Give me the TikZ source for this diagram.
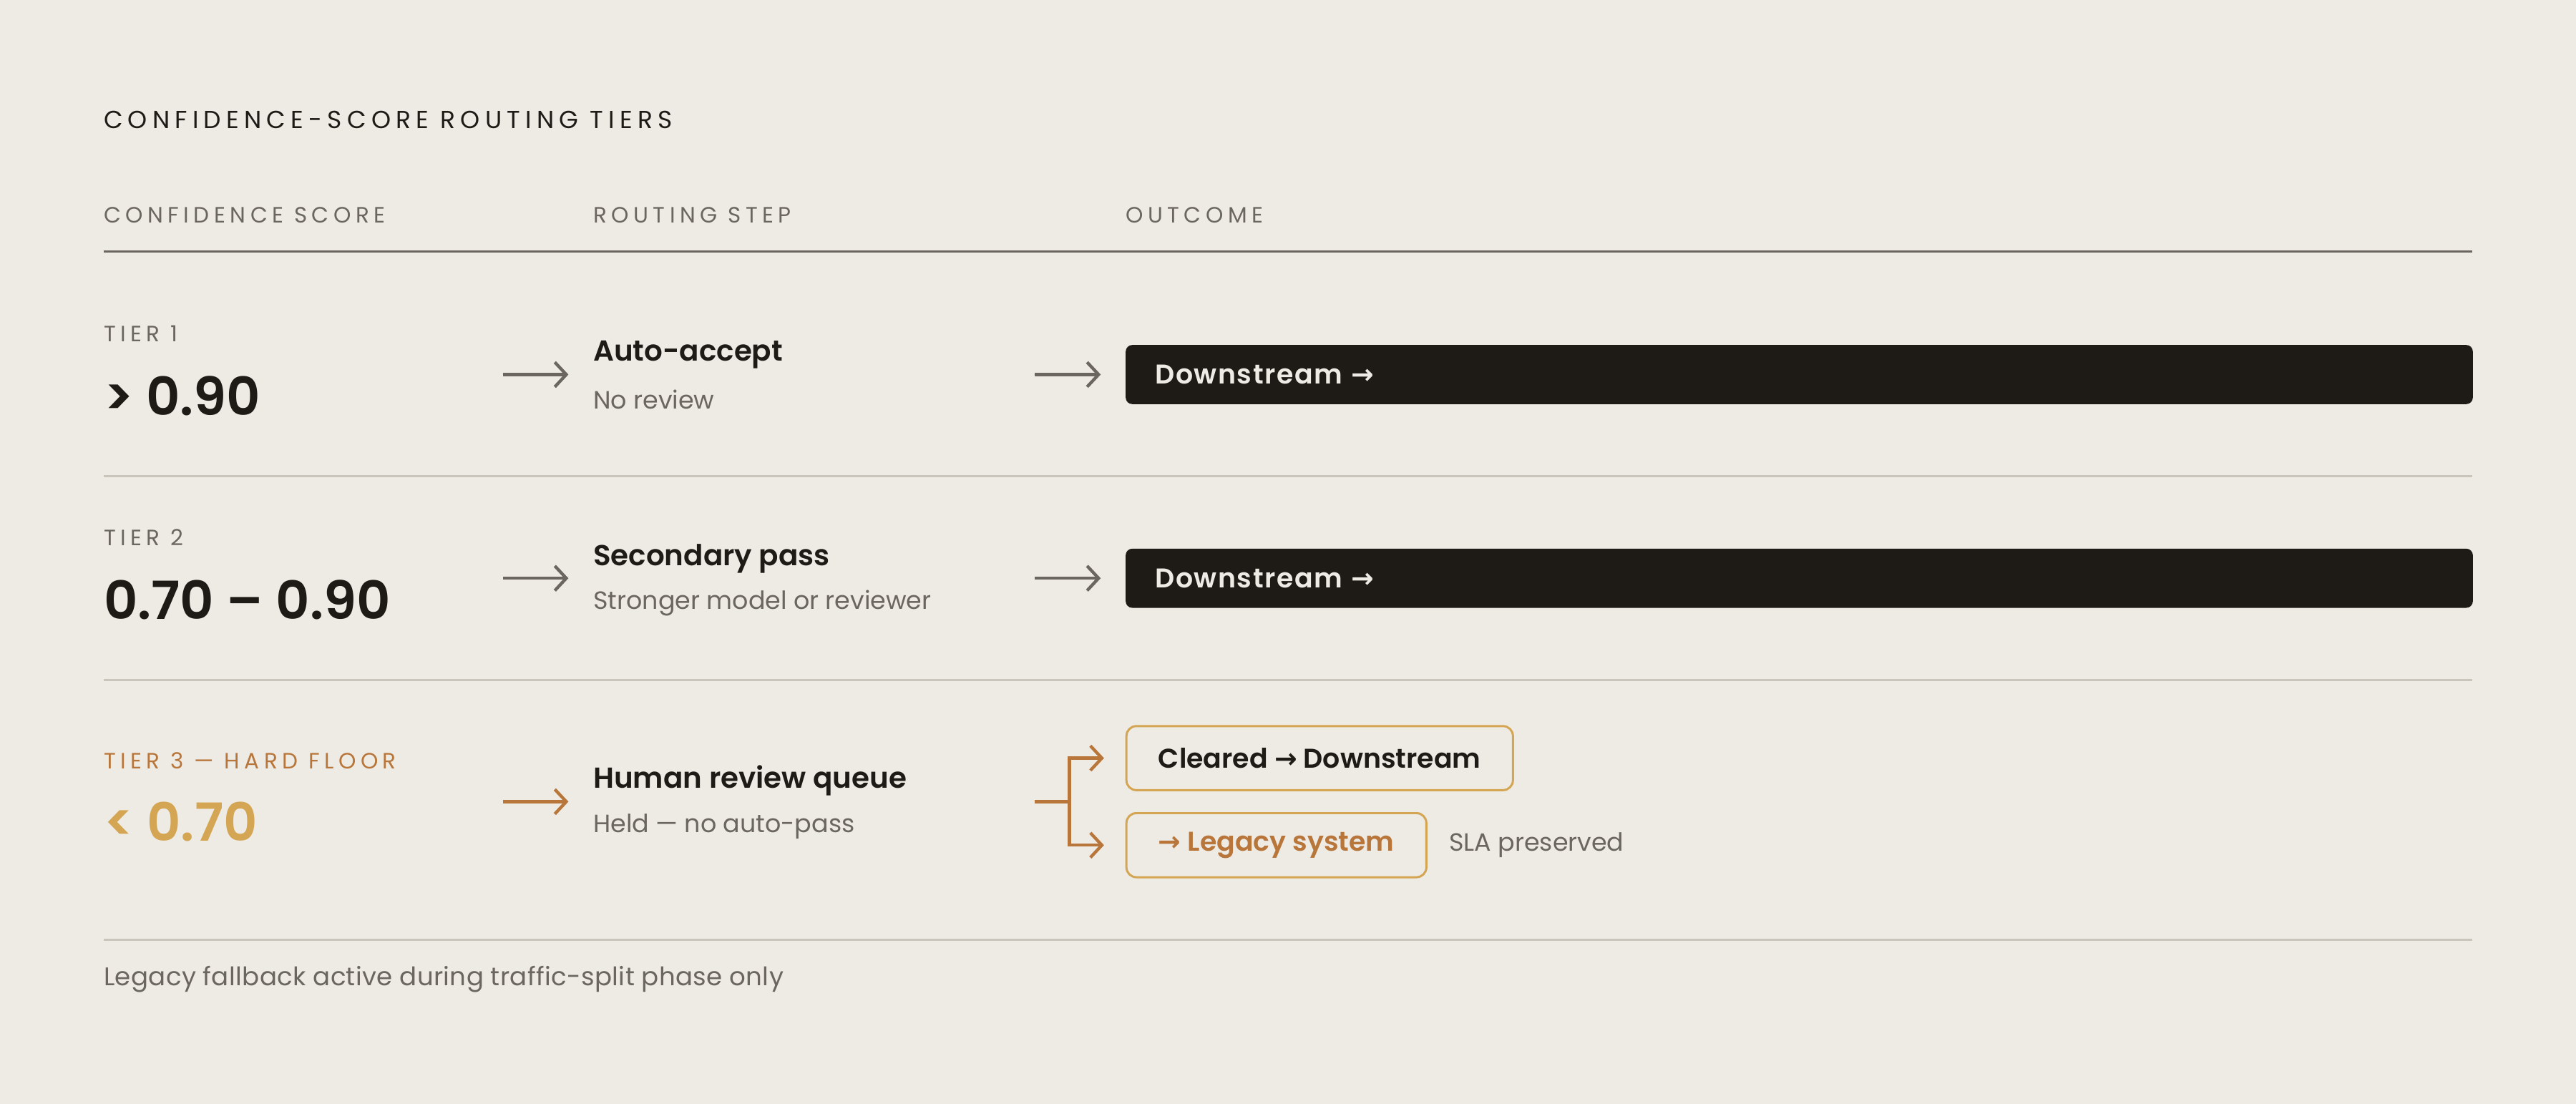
\documentclass[tikz,border=0pt]{standalone}
\usepackage{fontspec}
\setmainfont{Poppins}[BoldFont={Poppins SemiBold}]
\newfontfamily\capsfont[LetterSpace=21]{Poppins}
\newfontfamily\footfont[LetterSpace=1]{Poppins}
\newfontfamily\btnfont[LetterSpace=4, BoldFont={Poppins SemiBold}]{Poppins}
\newfontfamily\symfont{DejaVu Sans}
\usetikzlibrary{arrows.meta,positioning}
\definecolor{paper}{HTML}{EEEBE5}
\definecolor{ink}{HTML}{1E1A16}
\definecolor{inkgray}{HTML}{6B6660}
\definecolor{rulegray}{HTML}{C9C5BD}
\definecolor{rust}{HTML}{B8763A}
\definecolor{gold}{HTML}{D4A553}
\newcommand{\arr}{{\symfont\char"2192}}
\tikzset{
    txt/.style={anchor=west, inner sep=0pt},
    head/.style={txt, text=inkgray, font=\capsfont\fontsize{13.5}{16}\selectfont},
    score/.style={txt, text=ink, font=\bfseries\fontsize{32}{36}\selectfont},
    steptitle/.style={txt, text=ink, font=\bfseries\fontsize{17.6}{21}\selectfont},
    stepsub/.style={txt, text=inkgray, font=\fontsize{15.2}{19}\selectfont},
    flow/.style={-{Straight Barb[length=7pt, width=15pt]}, line width=1.9pt, inkgray, shorten >=15pt},
    outbox/.style={anchor=west, fill=ink, rounded corners=4pt, minimum height=36pt,
        text width=784pt, inner xsep=18pt, align=left, text=paper,
        font=\btnfont\bfseries\fontsize{16.5}{20}\selectfont},
    goldbox/.style={anchor=west, draw=gold, line width=1.3pt, rounded corners=6pt,
        minimum height=39pt, inner xsep=19.5pt, font=\bfseries\fontsize{16.5}{20}\selectfont},
    divider/.style={rulegray, line width=1.3pt}
}
\begin{document}
\begin{tikzpicture}[x=1pt, y=-1pt]
\fill[paper] (0,0) rectangle (1568,672);
\useasboundingbox (0,0) rectangle (1568,672);

% title and column heads
\node[txt, text=ink, font=\capsfont\fontsize{15}{18}\selectfont] (title) at (63,73) {CONFIDENCE-SCORE ROUTING TIERS};
\node[head] (hscore) at (63,131) {CONFIDENCE SCORE};
\node[head] (hstep) at (361,131) {ROUTING STEP};
\node[head] (hout) at (685,131) {OUTCOME};
\draw[inkgray, line width=1.3pt] (63,153) -- (1505,153);

% tier 1
\node[head] (tier1) at (63,203) {TIER 1};
\node[score] (v1) at (63,241) {> 0.90};
\node[steptitle] (st1) at (361,216) {Auto-accept};
\node[stepsub] (ss1) at (361,243) {No review};
\node[outbox] (o1) at (685,228) {Downstream \arr};
\coordinate (a1) at (306,228);
\coordinate (b1) at (630,228);
\draw[flow] (a1) -- (a1 -| st1.west);
\draw[flow] (b1) -- (o1.west);
\draw[divider] (63,290) -- (1505,290);

% tier 2
\node[head] (tier2) at (63,327) {TIER 2};
\node[score] (v2) at (63,365) {0.70 – 0.90};
\node[steptitle] (st2) at (361,340) {Secondary pass};
\node[stepsub] (ss2) at (361,367) {Stronger model or reviewer};
\node[outbox] (o2) at (685,352) {Downstream \arr};
\coordinate (a2) at (306,352);
\coordinate (b2) at (630,352);
\draw[flow] (a2) -- (a2 -| st2.west);
\draw[flow] (b2) -- (o2.west);
\draw[divider] (63,414) -- (1505,414);

% tier 3
\node[head, text=rust] (tier3) at (63,463) {TIER 3 — HARD FLOOR};
\node[score, text=gold] (v3) at (63,500) {< 0.70};
\node[steptitle] (st3) at (361,475) {Human review queue};
\node[stepsub] (ss3) at (361,503) {Held — no auto-pass};
\node[goldbox, text=ink] (clear) at (685,461.5) {Cleared \arr\ Downstream};
\node[goldbox, text=rust] (legacy) at (685,514.5) {\arr\ Legacy system};
\node[stepsub, right=13pt of legacy] (sla) {SLA preserved};
\coordinate (a3) at (306,488);
\coordinate (b3) at (630,488);
\coordinate (split) at (651,488);
\draw[flow, rust] (a3) -- (a3 -| st3.west);
\draw[rust, line width=1.9pt] (b3) -- (split);
\draw[flow, rust, shorten >=13pt] (split) |- (clear.west);
\draw[flow, rust, shorten >=13pt] (split) |- (legacy.west);
\draw[divider] (63,572) -- (1505,572);

% footer
\node[txt, text=inkgray, font=\footfont\fontsize{15.5}{19}\selectfont] (foot) at (63,596) {Legacy fallback active during traffic-split phase only};
\end{tikzpicture}
\end{document}
